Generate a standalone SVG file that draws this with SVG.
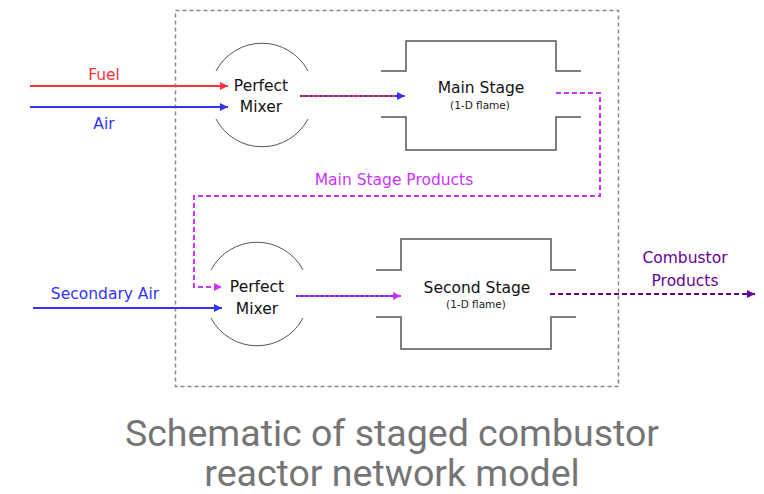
<svg xmlns="http://www.w3.org/2000/svg" width="764" height="494" viewBox="0 0 764 494">
<style>
.lbl{font-family:"DejaVu Sans","Liberation Sans",sans-serif;font-size:15.5px;text-anchor:middle}
.small{font-family:"DejaVu Sans","Liberation Sans",sans-serif;font-size:10.5px;text-anchor:middle;fill:#222}
.node{fill:#111}
.arc{fill:none;stroke:#555;stroke-width:1}
.stage{fill:none;stroke:#555;stroke-width:1.5}
.title{font-family:Roboto,"Liberation Sans",sans-serif;font-size:37.5px;fill:#757575;text-anchor:middle}
</style>
<defs>
<marker id="aRed" viewBox="0 0 10 10" refX="10" refY="5" markerWidth="8" markerHeight="8" markerUnits="userSpaceOnUse" orient="auto"><path d="M0,0 L10,5 L0,10 z" fill="#ff3333"/></marker>
<marker id="aBlue" viewBox="0 0 10 10" refX="10" refY="5" markerWidth="8" markerHeight="8" markerUnits="userSpaceOnUse" orient="auto"><path d="M0,0 L10,5 L0,10 z" fill="#3333ff"/></marker>
<marker id="aMag" viewBox="0 0 10 10" refX="10" refY="5" markerWidth="8" markerHeight="8" markerUnits="userSpaceOnUse" orient="auto"><path d="M0,0 L10,5 L0,10 z" fill="#cc33ff"/></marker>
<marker id="aPur" viewBox="0 0 10 10" refX="10" refY="5" markerWidth="8" markerHeight="8" markerUnits="userSpaceOnUse" orient="auto"><path d="M0,0 L10,5 L0,10 z" fill="#660099"/></marker>
</defs>

<rect id="boundary" x="175.5" y="10.5" width="443" height="376" fill="none" stroke="#888" stroke-width="1.5" stroke-dasharray="4,3"/>

<g id="mixer1">
<path class="arc" d="M216,71 A52,52 0 0 1 308,71"/>
<path class="arc" d="M216,119 A52,52 0 0 0 308,119"/>
<text class="lbl node" x="261" y="91">Perfect</text>
<text class="lbl node" x="261" y="112">Mixer</text>
</g>

<g id="mainStage">
<path class="stage" d="M381,71 H406 V41 H556 V71 H581"/>
<path class="stage" d="M381,117 H406 V150 H556 V117 H581"/>
<text class="lbl node" x="481" y="93">Main Stage</text>
<text class="small" x="480" y="109">(1-D flame)</text>
</g>

<g id="mixer2">
<path class="arc" d="M211,270 A52,52 0 0 1 303,270"/>
<path class="arc" d="M211,318 A52,52 0 0 0 303,318"/>
<text class="lbl node" x="257" y="292">Perfect</text>
<text class="lbl node" x="257" y="314">Mixer</text>
</g>

<g id="secondStage">
<path class="stage" d="M376,270 H401 V239 H551 V270 H576"/>
<path class="stage" d="M376,317 H401 V349 H551 V317 H576"/>
<text class="lbl node" x="477" y="293">Second Stage</text>
<text class="small" x="476" y="308">(1-D flame)</text>
</g>

<g id="connectors">
<line x1="30" y1="86" x2="228" y2="86" stroke="#ff3333" stroke-width="2" marker-end="url(#aRed)"/>
<line x1="30" y1="107" x2="228" y2="107" stroke="#3333ff" stroke-width="2" marker-end="url(#aBlue)"/>
<line x1="33" y1="308" x2="222" y2="308" stroke="#3333ff" stroke-width="2" marker-end="url(#aBlue)"/>
<line x1="300" y1="96" x2="405" y2="96" stroke="#ff3333" stroke-width="2"/>
<line x1="300" y1="96" x2="405" y2="96" stroke="#3333ff" stroke-width="2" stroke-dasharray="2,3" marker-end="url(#aBlue)"/>
<line x1="296" y1="296" x2="401" y2="296" stroke="#cc33ff" stroke-width="2" marker-end="url(#aMag)"/>
<line x1="296" y1="296" x2="393" y2="296" stroke="#3333ff" stroke-width="2" stroke-dasharray="2,3"/>
<path d="M556,93 H600 V196 H194 V287 H222" fill="none" stroke="#cc33ff" stroke-width="2" stroke-dasharray="5,3" marker-end="url(#aMag)"/>
<line x1="550" y1="294" x2="755" y2="294" stroke="#660099" stroke-width="1.8" stroke-dasharray="5,3" marker-end="url(#aPur)"/>
</g>

<g id="labels">
<text class="lbl" x="104" y="80" fill="#ff3333">Fuel</text>
<text class="lbl" x="104" y="129" fill="#3333ff">Air</text>
<text class="lbl" x="105" y="299" fill="#3333ff">Secondary Air</text>
<text class="lbl" x="394" y="185" fill="#cc33ff">Main Stage Products</text>
<text class="lbl" x="685" y="263" fill="#660099">Combustor</text>
<text class="lbl" x="685" y="286" fill="#660099">Products</text>
</g>

<text class="title" x="392" y="446">Schematic of staged combustor</text>
<text class="title" x="392" y="486">reactor network model</text>
</svg>
